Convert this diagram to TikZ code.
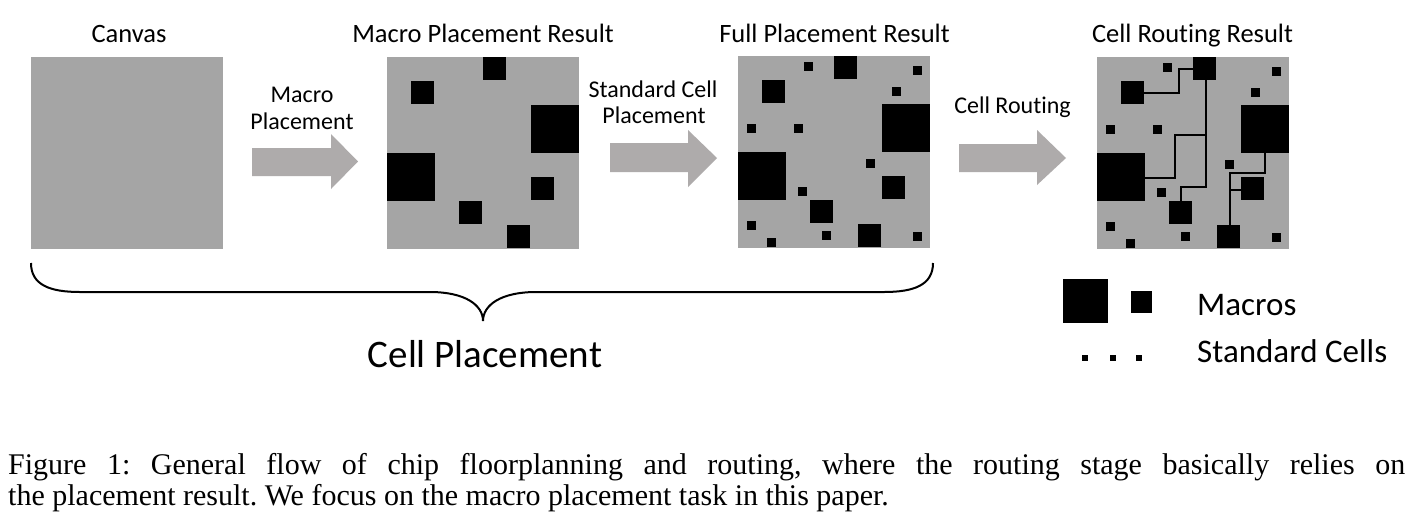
\documentclass[tikz,border=0pt]{standalone}
\usepackage{fontspec}
\setmainfont{Carlito}[Ligatures=CommonOff]
\newfontfamily\capfont{Liberation Serif}
\definecolor{panelgray}{RGB}{165,165,165}
\definecolor{arrowgray}{RGB}{174,171,171}
\tikzset{
  panel/.style={fill=panelgray},
  blk/.style={fill=black},
  wire/.style={draw=black, line width=2pt},
  bigarrow/.style={fill=arrowgray},
  ptitle/.style={inner sep=0pt, anchor=base, font=\fontsize{26.5}{30}\selectfont},
  alabel/.style={inner sep=0pt, anchor=base, font=\fontsize{24}{28}\selectfont},
  legtext/.style={inner sep=0pt, anchor=base west, font=\fontsize{33}{38}\selectfont},
  captext/.style={inner sep=0pt, anchor=base west, font=\capfont\fontsize{30}{34}\selectfont\frenchspacing},
  bracestyle/.style={draw=black, line width=2pt},
}
\newcommand\MyMacroBlocks{%
  \fill[blk] (96,0) rectangle ++(23,23);
  \fill[blk] (24,24) rectangle ++(23,23);
  \fill[blk] (144,48) rectangle ++(48,48);
  \fill[blk] (0,96) rectangle ++(48,48);
  \fill[blk] (144,120) rectangle ++(23,23);
  \fill[blk] (72,144) rectangle ++(23,23);
  \fill[blk] (120,168) rectangle ++(23,23);
}
\newcommand\MyStdCells{%
  \foreach \cx/\cy in {66/6,175/10,154/31,9/68,56/68,128/103,60/131,9/165,29/182,84/175,175/176}
    {\fill[blk] (\cx,\cy) rectangle ++(9,9);}
}
\begin{document}
\begin{tikzpicture}[x=1pt,y=-1pt]
\useasboundingbox (0,0) rectangle (1426,531);
\fill[white] (0,0) rectangle (1426,531);

% titles
\node[ptitle] (tcanvas) at (129,42) {Canvas};
\node[ptitle] (tmacro) at (483,42) {Macro Placement Result};
\node[ptitle] (tfull) at (834.5,42) {Full Placement Result};
\node[ptitle] (troute) at (1192.5,42) {Cell Routing Result};

% panel 1: canvas
\fill[panel] (31,57) rectangle ++(192,192);

% panel 2: macro placement
\begin{scope}[shift={(387,57)}]
  \fill[panel] (0,0) rectangle (192,192);
  \MyMacroBlocks
\end{scope}

% panel 3: full placement
\begin{scope}[shift={(738,56)}]
  \fill[panel] (0,0) rectangle (192,192);
  \MyMacroBlocks
  \MyStdCells
\end{scope}

% panel 4: routing
\begin{scope}[shift={(1097,57)}]
  \fill[panel] (0,0) rectangle (192,192);
  \MyMacroBlocks
  \MyStdCells
  \draw[wire] (47,36) -- (82,36) -- (82,12) -- (96,12);
  \draw[wire] (109,23) -- (109,130) -- (84,130) -- (84,144);
  \draw[wire] (109,78) -- (78,78) -- (78,121) -- (48,121);
  \draw[wire] (168,96) -- (168,116) -- (133,116) -- (133,168);
  \draw[wire] (133,133) -- (144,133);
\end{scope}

% arrows
\fill[bigarrow] (252,148) -- (331,148) -- (331,134) -- (358,161.5) -- (331,189) -- (331,176) -- (252,176) -- cycle;
\fill[bigarrow] (610,143) -- (688,143) -- (688,130) -- (717,158) -- (688,187) -- (688,172) -- (610,172) -- cycle;
\fill[bigarrow] (959,144) -- (1037,144) -- (1037,130) -- (1066,158) -- (1037,185) -- (1037,172) -- (959,172) -- cycle;

% arrow labels
\node[alabel] (l1a) at (302,102) {Macro};
\node[alabel] (l1b) at (302,129) {Placement};
\node[alabel] (l2a) at (653,97) {Standard Cell};
\node[alabel] (l2b) at (654,123) {Placement};
\node[alabel] (l3) at (1012.5,113) {Cell Routing};

% brace
\draw[bracestyle] (31,263) .. controls (31,285) and (50,292) .. (80,292) -- (430,292)
  .. controls (465,292) and (483,305) .. (483,321)
  .. controls (483,305) and (501,292) .. (536,292) -- (884,292)
  .. controls (914,292) and (933,285) .. (933,263);
\node[inner sep=0pt, anchor=base, font=\fontsize{39}{44}\selectfont] (cellplace) at (485,367) {Cell Placement};

% legend
\fill[blk] (1063,279) rectangle ++(45,44);
\fill[blk] (1131,291) rectangle ++(21,22);
\fill[blk] (1082,355) rectangle ++(6,6);
\fill[blk] (1110,355) rectangle ++(6,6);
\fill[blk] (1136,355) rectangle ++(6,6);
\node[legtext] (lmac) at (1197,315) {Macros};
\node[legtext] (lstd) at (1197,362) {Standard Cells};

% caption
\node[captext] (cap1) at (8,474) {\makebox[1397pt][s]{Figure 1: General flow of chip floorplanning and routing, where the routing stage basically relies on}};
\node[captext] (cap2) at (8,505) {the placement result. We focus on the macro placement task in this paper.};
\end{tikzpicture}
\end{document}
